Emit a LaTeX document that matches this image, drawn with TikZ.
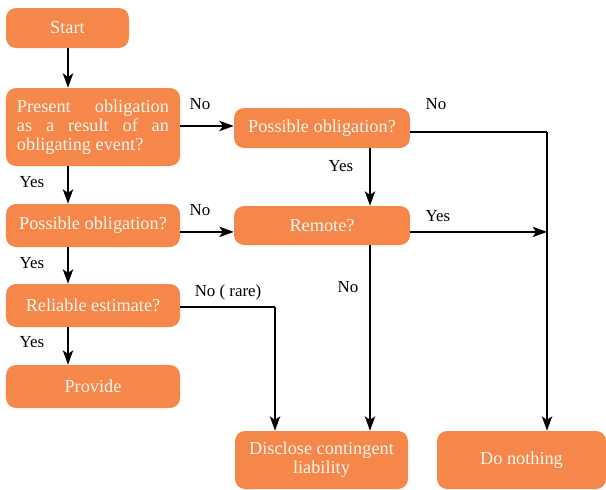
\documentclass[tikz,border=0pt]{standalone}
\usepackage{fontspec}
\setmainfont{Liberation Serif}
\usetikzlibrary{arrows.meta}
\definecolor{boxorange}{HTML}{F5874A}
\definecolor{boxtext}{HTML}{FFF6EE}
\tikzset{
  box/.style={fill=boxorange, text=boxtext, rounded corners=0.25cm, inner sep=0pt,
    font=\fontsize{13}{13.6}\selectfont, align=center},
  lbl/.style={font=\fontsize{12}{14}\selectfont, text=black},
  arr/.style={line width=0.9pt, -{Stealth[length=3.6mm,width=2.6mm,inset=0.9mm]}},
  ln/.style={line width=0.9pt}
}
\begin{document}
\begin{tikzpicture}
        \useasboundingbox (0,0) rectangle (15.15,12.225);
        % left column
        \node[box, minimum width=3.075cm, minimum height=1cm] (start) at (1.6875,11.525) {Start};
        \node[box, minimum width=4.35cm, minimum height=1.95cm, text width=3.8cm, align=justify] (present) at (2.325,9.05)
          {Present obligation\linebreak as a result of an\linebreak obligating event?};
        \node[box, minimum width=4.35cm, minimum height=1.075cm] (possL) at (2.325,6.5875) {Possible obligation?};
        \node[box, minimum width=4.35cm, minimum height=1.075cm] (reliable) at (2.325,4.5875) {Reliable estimate?};
        \node[box, minimum width=4.35cm, minimum height=1.075cm] (provide) at (2.325,2.5625) {Provide};
        % middle and right
        \node[box, minimum width=4.4cm, minimum height=1cm] (possR) at (8.05,9.025) {Possible obligation?};
        \node[box, minimum width=4.4cm, minimum height=0.975cm] (remote) at (8.05,6.5875) {Remote?};
        \node[box, minimum width=4.325cm, minimum height=1.45cm] (disclose) at (8.0375,0.725) {Disclose contingent\\liability};
        \node[box, minimum width=4.225cm, minimum height=1.45cm] (nothing) at (13.0375,0.725) {Do nothing};
        % turning points
        \coordinate (colL) at (1.7,0);
        \coordinate (colM) at (9.25,0);
        \coordinate (colR) at (13.675,0);
        \coordinate (colD) at (6.875,0);
        % arrows
        \draw[arr] (start.south -| colL) -- (present.north -| colL);
        \draw[arr] (present.south -| colL) -- (possL.north -| colL);
        \draw[arr] (possL.south -| colL) -- (reliable.north -| colL);
        \draw[arr] (reliable.south -| colL) -- (provide.north -| colL);
        \draw[arr] ([yshift=0.025cm]present.east) -- ([yshift=0.025cm]present.east -| possR.west);
        \draw[arr] ([yshift=-0.16cm]possL.east) -- ([yshift=-0.16cm]possL.east -| remote.west);
        \draw[arr] (possR.south -| colM) -- (remote.north -| colM);
        \draw[arr] (remote.south -| colM) -- (disclose.north -| colM);
        \draw[ln] ([yshift=-0.1cm]possR.east) -- ([yshift=-0.1cm]possR.east -| colR);
        \draw[arr] ([yshift=-0.1cm]possR.east -| colR) -- (nothing.north -| colR);
        \draw[arr] ([yshift=-0.16cm]remote.east) -- ([yshift=-0.16cm]remote.east -| colR);
        \draw[ln] ([yshift=-0.04cm]reliable.east) -- ([yshift=-0.04cm]reliable.east -| colD);
        \draw[arr] ([yshift=-0.04cm]reliable.east -| colD) -- (disclose.north -| colD);
        % labels
        \node[lbl] (l1) at (5.0,9.625) {No};
        \node[lbl] (l2) at (0.8,7.675) {Yes};
        \node[lbl] (l3) at (5.0,6.975) {No};
        \node[lbl] (l4) at (0.8,5.65) {Yes};
        \node[lbl] (l5) at (0.8,3.675) {Yes};
        \node[lbl] (l6) at (8.525,8.075) {Yes};
        \node[lbl] (l7) at (10.9,9.625) {No};
        \node[lbl] (l8) at (10.95,6.825) {Yes};
        \node[lbl] (l9) at (8.7,5.05) {No};
        \node[lbl] (l10) at (5.7,4.925) {No ( rare)};
\end{tikzpicture}
\end{document}
